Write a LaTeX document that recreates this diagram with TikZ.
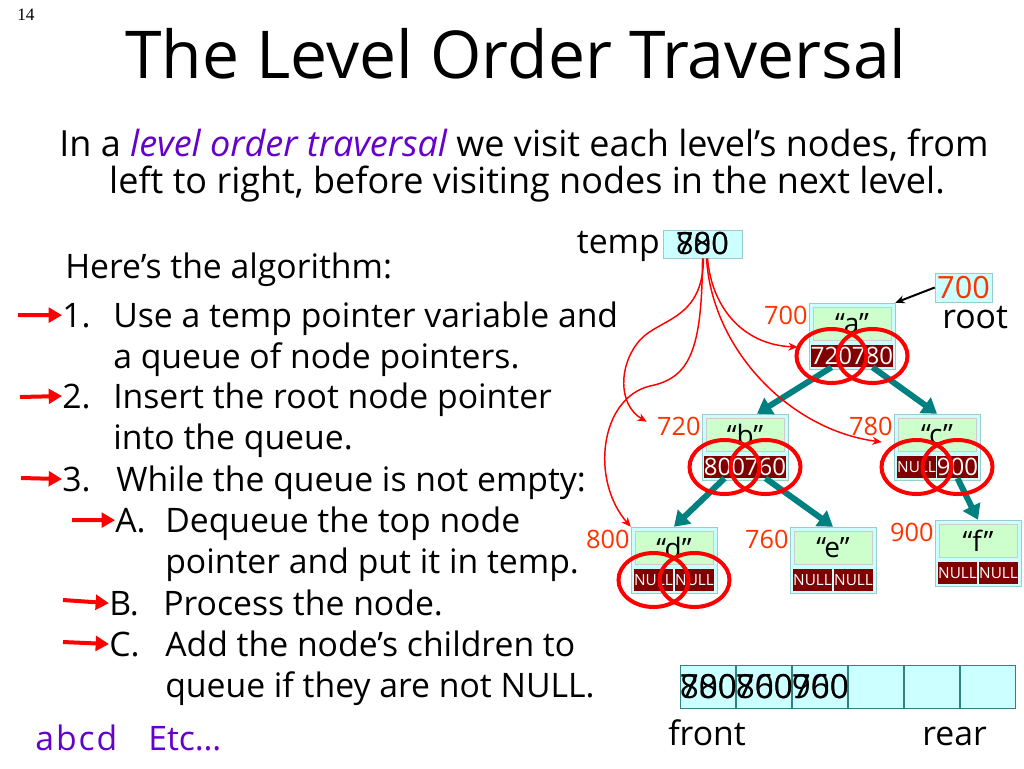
\documentclass[tikz,border=0pt]{standalone}
\usepackage{fontspec}
\setmainfont{Open Sans}
\newfontfamily\numfont{Liberation Serif}
\usetikzlibrary{positioning,arrows.meta,calc}

\definecolor{boxcyan}{HTML}{CCFFFF}
\definecolor{boxgreen}{HTML}{CCFFCC}
\definecolor{boxedge}{HTML}{99CCCC}
\definecolor{fieldred}{HTML}{800000}
\definecolor{addrorange}{HTML}{FF3300}
\definecolor{linkteal}{HTML}{008080}
\definecolor{notepurple}{HTML}{6600CC}

\newcommand{\nullptr}{{\fontsize{11.5}{12}\selectfont NULL}}

\tikzset{
  slidetext/.style={font=\fontsize{25.3}{30}\selectfont, anchor=base west, inner sep=0pt},
  introtext/.style={font=\fontsize{27}{30}\selectfont, anchor=base, inner sep=0pt},
  treebox/.style={draw=boxedge, fill=boxcyan, minimum width=64.5pt, minimum height=49.5pt, inner sep=0pt},
  databox/.style={draw=gray!40, fill=boxgreen, minimum width=58.5pt, minimum height=24.75pt, inner sep=0pt, font=\fontsize{21}{24}\selectfont},
  ptrbox/.style={fill=fieldred, text=white, minimum width=27.75pt, minimum height=16.5pt, inner sep=0pt, font=\fontsize{18}{20}\selectfont},
  addr/.style={text=addrorange, inner sep=0pt, font=\fontsize{19}{22}\selectfont},
  ring/.style={draw=red, line width=3pt},
  link/.style={draw=linkteal, line width=4.5pt, -{Triangle[length=11pt,width=14pt]}},
  stepmark/.style={draw=red, line width=3pt, -{Triangle[length=10pt,width=11pt]}},
  tempptr/.style={draw=red, line width=1.1pt, -{Stealth[length=7pt,width=6pt]}},
  qcell/.style={draw=linkteal!60!gray, fill=boxcyan, minimum width=41.6pt, minimum height=32.25pt, inner sep=0pt},
  qtext/.style={anchor=west, inner sep=0pt, font=\fontsize{25}{28}\selectfont}
}

\begin{document}
\begin{tikzpicture}[x=0.75pt, y=-0.75pt]
    \useasboundingbox (0,0) rectangle (1024,768);
    \fill[white] (0,0) rectangle (1024,768);

    % slide number and title
    \node[anchor=base west, inner sep=0pt, font=\numfont\fontsize{13}{14}\selectfont] (slideno) at (17,20) {14};
    \node[anchor=base, inner sep=0pt, font=\fontsize{49.5}{52}\selectfont] (title) at (516,78) {The Level Order Traversal};

    % intro
    \node[introtext] (intro1) at (524,156) {In a \textcolor{notepurple}{\itshape level order traversal} we visit each level’s nodes, from};
    \node[introtext] (intro2) at (527,193) {left to right, before visiting nodes in the next level.};

    % algorithm
    \node[slidetext] (algo) at (65,278) {Here’s the algorithm:};
    \node[slidetext] (n1) at (62,327) {1.};
    \node[slidetext] (t1a) at (113,327) {Use a temp pointer variable and};
    \node[slidetext] (t1b) at (113,368) {a queue of node pointers.};
    \node[slidetext] (n2) at (62,408) {2.};
    \node[slidetext] (t2a) at (113,408) {Insert the root node pointer};
    \node[slidetext] (t2b) at (113,449) {into the queue.};
    \node[slidetext] (n3) at (62,491) {3.};
    \node[slidetext] (t3a) at (116,491) {While the queue is not empty:};
    \node[slidetext] (nA) at (115,532) {A.};
    \node[slidetext] (tAa) at (165,532) {Dequeue the top node};
    \node[slidetext] (tAb) at (165,573) {pointer and put it in temp.};
    \node[slidetext] (nB) at (109,615) {B.};
    \node[slidetext] (tBa) at (163,615) {Process the node.};
    \node[slidetext] (nC) at (109,656) {C.};
    \node[slidetext] (tCa) at (165,656) {Add the node’s children to};
    \node[slidetext] (tCb) at (165,697) {queue if they are not NULL.};
    \node[slidetext, text=notepurple] (abcd) at (35,750) {a\kern1.5pt b\kern1.5pt c\kern1.5pt d};
    \node[slidetext, text=notepurple] (etc) at (148,750) {Etc…};

    % step marks
    \coordinate (m1) at (18,315);
    \coordinate (m2) at (20,397);
    \coordinate (m3) at (21,478);
    \coordinate (mA) at (72,520);
    \coordinate (mB) at (63,600);
    \coordinate (mC) at (63,642);
    \draw[stepmark] (m1) -- (n1.west);
    \draw[stepmark] (m2) -- (n2.west);
    \draw[stepmark] (m3) -- (n3.west);
    \draw[stepmark] (mA) -- (nA.west);
    \draw[stepmark] (mB) -- (nB.west);
    \draw[stepmark] (mC) -- (nC.west);

    % tree
    \foreach \n/\cx/\cy/\txt/\lp/\rp/\addr in {a/852/336/a/720/780/700, b/745/447/b/800/760/720,
        c/937/447/c/\nullptr/900/780, d/674/560/d/\nullptr/\nullptr/800,
        e/833/560/e/\nullptr/\nullptr/760, f/978/553/f/\nullptr/\nullptr/900} {
      \node[treebox] (\n) at (\cx,\cy) {};
      \node[databox] (\n-d) at ($(\n)+(0,-12.5)$) {“\txt”};
      \node[ptrbox] (\n-l) at ($(\n)+(-20.5,20)$) {\lp};
      \node[ptrbox] (\n-r) at ($(\n)+(20.5,20)$) {\rp};
      \node[addr, anchor=base east] (\n-addr) at ($(\n.north west)+(-1,22)$) {\addr};
    }
    \draw[link] (a-l.south) -- ($(b.north)+(12,0)$);
    \draw[link] (a-r.south) -- (c.north);
    \draw[link] (b-l.south) -- (d.north);
    \draw[link] (b-r.south) -- (e.north);
    \draw[link] (c-r.south) -- (f.north);

    % root pointer
    \node[draw=boxedge, fill=boxcyan, minimum width=42.75pt, minimum height=21.75pt, inner sep=0pt,
          text=addrorange, font=\fontsize{23}{25}\selectfont] (rootbox) at (963.5,287.5) {700};
    \node[slidetext] (rootlbl) at (942,328) {root};
    \draw[line width=1.5pt, -{Stealth[length=7pt,width=6pt]}] (rootbox.west) -- (a.north east);

    % temp pointer
    \node[slidetext, anchor=base east] (templbl) at (660,253) {temp};
    \node[draw=boxedge, fill=boxcyan, minimum width=59.25pt, minimum height=21pt, inner sep=0pt] (tempbox) at (702.5,244) {};
    \node[inner sep=0pt, font=\fontsize{23}{25}\selectfont] (temp1) at (tempbox) {780};
    \node[inner sep=0pt, font=\fontsize{23}{25}\selectfont] (temp2) at (tempbox) {800};
    \draw[tempptr] ($(tempbox.south)+(5,0)$) .. controls (712,310) and (745,345) .. ($(a.west)+(-11,11)$);
    \draw[tempptr] ($(tempbox.south)+(1,0)$) .. controls (703,320) and (660,318) .. (640,340)
        .. controls (618,365) and (618,405) .. ($(b-addr.west)+(-10,-5)$);
    \draw[tempptr] (tempbox.south) .. controls (702,350) and (690,378) .. (650,386)
        .. controls (600,398) and (590,480) .. (d.north west);
    \draw[tempptr] ($(tempbox.south)+(4,0)$) .. controls (712,350) and (790,430) .. ($(c.west)+(-12,-5)$);

    % queue
    \node[qcell] (q1) at (707.5,686.5) {};
    \foreach \i [remember=\i as \last (initially 1)] in {2,...,6}
      \node[qcell, right=0pt of q\last] (q\i) {};
    \node[qtext] (q1a) at (q1.west) {780};
    \node[qtext] (q1b) at (q1.west) {800};
    \node[qtext] (q2a) at (q2.west) {800};
    \node[qtext] (q2b) at (q2.west) {760};
    \node[qtext] (q3a) at (q3.west) {760};
    \node[qtext] (q3b) at (q3.west) {900};
    \node[slidetext] (front) at (668,745) {front};
    \node[slidetext] (rear) at (922,745) {rear};

    % rings on the visited pointers
    \foreach \n in {a,b,c,d} {
      \draw[ring] (\n-l) ellipse [x radius=35, y radius=27];
      \draw[ring] (\n-r) ellipse [x radius=35, y radius=27];
    }

\end{tikzpicture}
\end{document}
